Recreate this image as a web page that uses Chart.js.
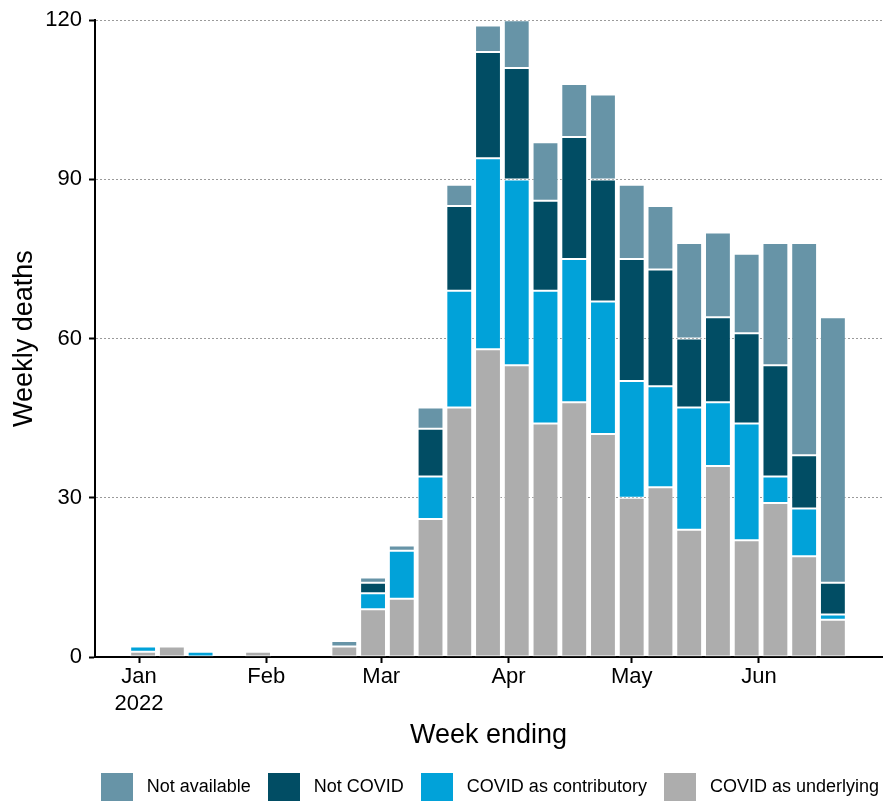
<!DOCTYPE html>
<html><head><meta charset="utf-8">
<script src="https://cdn.jsdelivr.net/npm/chart.js@4.4.1/dist/chart.umd.min.js"></script>
<style>html,body{margin:0;padding:0;overflow:hidden;background:#fff;}canvas{display:block;}</style>
</head><body>
<canvas id="c" width="888" height="806"></canvas>
<script>
// ---- data ----
const weekEnding = ['2022-01-02','2022-01-09','2022-01-16','2022-01-23','2022-01-30','2022-02-06','2022-02-13',
  '2022-02-20','2022-02-27','2022-03-06','2022-03-13','2022-03-20','2022-03-27','2022-04-03','2022-04-10',
  '2022-04-17','2022-04-24','2022-05-01','2022-05-08','2022-05-15','2022-05-22','2022-05-29','2022-06-05',
  '2022-06-12','2022-06-19'];
const covidUnderlying   = [1,2,0,0,1,0,0,2,9,11,26,47,58,55,44,48,42,30,32,24,36,22,29,19,7];
const covidContributory = [1,0,1,0,0,0,0,0,3,9,8,22,36,35,25,27,25,22,19,23,12,22,5,9,1];
const notCovid          = [0,0,0,0,0,0,0,0,2,0,9,16,20,21,17,23,23,23,22,13,16,17,21,10,6];
const notAvailable      = [0,0,0,0,0,0,0,1,1,1,4,4,5,9,11,10,16,14,12,18,16,15,23,40,50];
const seriesNames  = ['COVID as underlying','COVID as contributory','Not COVID','Not available'];
const seriesColors = ['#adadad','#01a2d9','#014d64','#6794a7'];
const monthStarts = ['2022-01-01','2022-02-01','2022-03-01','2022-04-01','2022-05-01','2022-06-01'];
const monthLabels = [['Jan','2022'],'Feb','Mar','Apr','May','Jun'];
const yTicks = [0,30,60,90,120];

function dayIndex(s){const p=s.split('-').map(Number);return (Date.UTC(p[0],p[1]-1,p[2])-Date.UTC(2022,0,1))/86400000;}
const weekDays = weekEnding.map(dayIndex);
const tickDays = monthStarts.map(dayIndex);
const allSeries = [covidUnderlying,covidContributory,notCovid,notAvailable];

// legend swatches (32x28 colour boxes)
const swatches = seriesColors.map(col => {
  const cv = document.createElement('canvas'); cv.width = 32; cv.height = 28;
  const cx = cv.getContext('2d'); cx.fillStyle = col; cx.fillRect(0,0,32,28); return cv;
});

const FONT = '"Liberation Sans", Arial, Helvetica, sans-serif';
Chart.defaults.font.family = FONT;
Chart.defaults.color = '#000';

new Chart(document.getElementById('c'), {
  type: 'bar',
  data: {
    datasets: allSeries.map((vals,i)=>({
      label: seriesNames[i],
      xAxisID: 'x', yAxisID: 'y',
      data: vals.map((v,j)=>({x: weekDays[j], y: v})),
      backgroundColor: seriesColors[i],
      borderColor: 'rgba(255,255,255,0.55)',
      borderWidth: 1,
      borderSkipped: false,
      categoryPercentage: 1,
      barPercentage: 0.9
    }))
  },
  options: {
    responsive: false,
    animation: false,
    devicePixelRatio: 1,
    layout: {padding: {top: 20, right: -3, left: 0, bottom: 0}},
    plugins: {
      tooltip: {enabled: false},
      legend: {
        position: 'bottom',
        fullSize: true,
        align: 'end',
        reverse: true,
        labels: {
          usePointStyle: true, pointStyleWidth: 42,
          boxWidth: 42, boxHeight: 18, padding: 12,
          font: {size: 18, family: FONT}, color: '#000',
          generateLabels: (chart) => Chart.defaults.plugins.legend.labels.generateLabels(chart)
              .map(l => Object.assign(l, {lineWidth: 0, pointStyle: swatches[l.datasetIndex]}))
        }
      }
    },
    scales: {
      x: {
        type: 'linear',
        stacked: true,
        offset: false,
        min: -10.72, max: 180.96,
        afterBuildTicks: (s) => { s.ticks = tickDays.map(v => ({value: v})); },
        afterFit: (s) => { s.height = 109; },
        ticks: {
          autoSkip: false, maxRotation: 0, padding: 1,
          font: {size: 22, family: FONT}, color: '#000',
          callback: (v) => { const i = tickDays.indexOf(v); return i >= 0 ? monthLabels[i] : ''; }
        },
        grid: {display: true, offset: false, drawOnChartArea: false, drawTicks: true, tickLength: 6,
               tickColor: '#000', tickWidth: 2, tickBorderDash: []},
        border: {display: true, color: '#000', width: 2},
        title: {display: true, text: 'Week ending', font: {size: 27, family: FONT}, color: '#000',
                padding: {top: 0, bottom: 14}}
      },
      y: {
        stacked: true,
        min: 0, max: 120,
        afterBuildTicks: (s) => { s.ticks = yTicks.map(v => ({value: v})); },
        afterFit: (s) => { s.width = 95; },
        ticks: {padding: 7, font: {size: 22, family: FONT}, color: '#000'},
        grid: {
          color: (c) => (c.tick && c.tick.value === 0) ? 'rgba(0,0,0,0)' : '#9a9a9a',
          lineWidth: 1,
          drawTicks: true, tickLength: 6, tickColor: '#000', tickWidth: 2, tickBorderDash: []
        },
        border: {display: true, color: '#000', width: 2, dash: [2,2]},
        title: {display: true, text: 'Weekly deaths', font: {size: 27, family: FONT}, color: '#000',
                padding: {top: 8, bottom: 0}}
      },
      yR: {
        type: 'linear',
        position: 'right',
        display: true,
        grid: {display: false, drawTicks: false},
        border: {display: false},
        ticks: {display: false},
        title: {display: false},
        afterFit: (s) => { s.width = 9; }
      }
    }
  }
});
</script>
</body></html>
